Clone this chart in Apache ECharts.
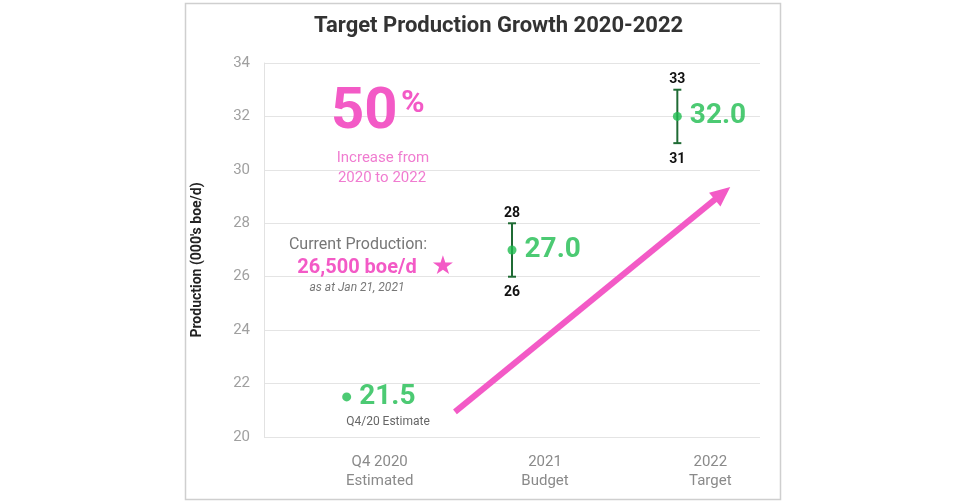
<!DOCTYPE html>
<html>
<head>
<meta charset="utf-8">
<script src="https://cdn.jsdelivr.net/npm/echarts@6/dist/echarts.min.js"></script>
<style>
html,body{margin:0;padding:0;background:#fff;}
#chart{width:960px;height:502px;}
</style>
</head>
<body>
<div id="chart"></div>
<script>
// ---- data ----
const categories = ['Q4 2020\nEstimated', '2021\nBudget', '2022\nTarget'];
const production = [21.5, 27.0, 32.0];
const rangeLow = [null, 26, 31];
const rangeHigh = [null, 28, 33];
const yTicks = { min: 20, max: 34, interval: 2 };
const arrowStart = [0.655, 20.94];
const arrowEnd = [2.32, 29.36];

const PINK = '#f35ac6';
const GREEN = '#1fbd50';
const DARKGREEN = '#1f6b34';
const FONT = 'Roboto, "Noto Sans", sans-serif';

const chart = echarts.init(document.getElementById('chart'));

const errData = categories.map((c, i) => [i, rangeLow[i], rangeHigh[i]]).filter(d => d[1] != null);

const option = {
  backgroundColor: '#fff',
  animation: false,
  textStyle: { fontFamily: FONT },
  title: {
    text: 'Target Production Growth 2020-2022',
    left: 309, top: 10,
    textStyle: { fontFamily: FONT, fontSize: 22, fontWeight: 'bold', color: '#333' }
  },
  grid: { left: 264, right: 200, top: 63, bottom: 65 },
  xAxis: [{
    type: 'category',
    data: categories,
    boundaryGap: true,
    axisLine: { show: false },
    axisTick: { show: false },
    axisLabel: {
      color: '#8a8a8a', fontSize: 15, lineHeight: 19, margin: 16,
      padding: [0, 0, 0, 66], fontFamily: FONT
    }
  }, {
    type: 'value', min: -0.5, max: 2.5, show: false
  }],
  yAxis: {
    type: 'value',
    min: yTicks.min, max: yTicks.max, interval: yTicks.interval,
    name: "Production (000's boe/d)",
    nameLocation: 'middle', nameRotate: 90, nameGap: 60,
    nameTextStyle: { fontFamily: FONT, fontSize: 14, fontWeight: 'bold', color: '#222', padding: [0, 20, 0, 0] },
    axisLine: { show: true, onZero: false, lineStyle: { color: '#e2e2e2' } },
    axisTick: { show: false },
    axisLabel: { color: '#a0a0a0', fontSize: 15, margin: 14, fontFamily: FONT },
    splitLine: { show: true, lineStyle: { color: '#e4e4e4', width: 1 } }
  },
  series: [
    {
      type: 'custom',
      name: 'range',
      xAxisIndex: 0,
      data: errData,
      encode: { x: 0, y: [1, 2] },
      z: 3,
      renderItem: function (params, api) {
        const x = api.value(0);
        const lo = api.coord([x, api.value(1)]);
        const hi = api.coord([x, api.value(2)]);
        const cap = 4;
        const st = { stroke: DARKGREEN, lineWidth: 2 };
        return {
          type: 'group',
          children: [
            { type: 'line', shape: { x1: lo[0], y1: lo[1], x2: hi[0], y2: hi[1] }, style: st },
            { type: 'line', shape: { x1: lo[0] - cap, y1: lo[1], x2: lo[0] + cap, y2: lo[1] }, style: st },
            { type: 'line', shape: { x1: hi[0] - cap, y1: hi[1], x2: hi[0] + cap, y2: hi[1] }, style: st },
            { type: 'text', x: hi[0], y: hi[1] - 10, style: {
                text: String(api.value(2)), fill: '#111', font: 'bold 14px ' + FONT,
                textAlign: 'center', textVerticalAlign: 'middle' } },
            { type: 'text', x: lo[0], y: lo[1] + 16, style: {
                text: String(api.value(1)), fill: '#111', font: 'bold 14px ' + FONT,
                textAlign: 'center', textVerticalAlign: 'middle' } }
          ]
        };
      }
    },
    {
      type: 'scatter',
      name: 'production',
      data: production,
      symbol: 'circle',
      symbolSize: 9,
      z: 5,
      itemStyle: { color: GREEN },
      label: {
        show: true, position: 'right', distance: 8,
        formatter: p => p.value.toFixed(1),
        color: GREEN, fontSize: 28, fontWeight: 'bold', fontFamily: FONT
      }
    },
    {
      type: 'custom',
      name: 'arrow',
      xAxisIndex: 1,
      data: [[arrowStart[0], arrowStart[1], arrowEnd[0], arrowEnd[1]]],
      encode: { x: [0, 2], y: [1, 3] },
      z: 2,
      renderItem: function (params, api) {
        const p0 = api.coord([api.value(0), api.value(1)]);
        const p1 = api.coord([api.value(2), api.value(3)]);
        const dx = p1[0] - p0[0], dy = p1[1] - p0[1];
        const len = Math.sqrt(dx * dx + dy * dy);
        const ux = dx / len, uy = dy / len;
        const hl = 20, hw = 9;
        const bx = p1[0] - ux * hl, by = p1[1] - uy * hl;
        return {
          type: 'group',
          children: [
            { type: 'line', shape: { x1: p0[0], y1: p0[1], x2: bx + ux * 2, y2: by + uy * 2 },
              style: { stroke: PINK, lineWidth: 6 } },
            { type: 'polygon', shape: { points: [
                [p1[0], p1[1]],
                [bx - uy * hw, by + ux * hw],
                [bx + uy * hw, by - ux * hw]
              ] }, style: { fill: PINK } }
          ]
        };
      }
    }
  ],
  graphic: [
    { type: 'rect', left: 183, top: 1, shape: { width: 595, height: 496 }, silent: true, z: -10,
      style: { fill: 'none', stroke: '#cfcfcf', lineWidth: 1.5 } },
    { type: 'text', z: 100, x: 331, y: 113, style: { text: '50', fill: PINK, font: 'bold 58px ' + FONT, textAlign: 'left', textVerticalAlign: 'middle' } },
    { type: 'text', z: 100, x: 401, y: 104, style: { text: '%', fill: PINK, font: 'bold 32px ' + FONT, textAlign: 'left', textVerticalAlign: 'middle' } },
    { type: 'text', z: 100, x: 383, y: 158, style: { text: 'Increase from', fill: '#f07cd0', font: '15px ' + FONT, textAlign: 'center', textVerticalAlign: 'middle' } },
    { type: 'text', z: 100, x: 382, y: 178, style: { text: '2020 to 2022', fill: '#f07cd0', font: '15px ' + FONT, textAlign: 'center', textVerticalAlign: 'middle' } },
    { type: 'text', z: 100, x: 358, y: 245, style: { text: 'Current Production:', fill: '#777', font: '16px ' + FONT, textAlign: 'center', textVerticalAlign: 'middle' } },
    { type: 'text', z: 100, x: 357, y: 268, style: { text: '26,500 boe/d', fill: PINK, font: 'bold 20px ' + FONT, textAlign: 'center', textVerticalAlign: 'middle' } },
    { type: 'text', z: 100, x: 443, y: 267, style: { text: '★', fill: PINK, font: '26px "DejaVu Sans"', textAlign: 'center', textVerticalAlign: 'middle' } },
    { type: 'text', z: 100, x: 357, y: 288, style: { text: 'as at Jan 21, 2021', fill: '#777', font: 'italic 12px ' + FONT, textAlign: 'center', textVerticalAlign: 'middle' } },
    { type: 'text', z: 100, x: 388, y: 422, style: { text: 'Q4/20 Estimate', fill: '#666', font: '12px ' + FONT, textAlign: 'center', textVerticalAlign: 'middle' } }
  ]
};
chart.setOption(option);
</script>
</body>
</html>
